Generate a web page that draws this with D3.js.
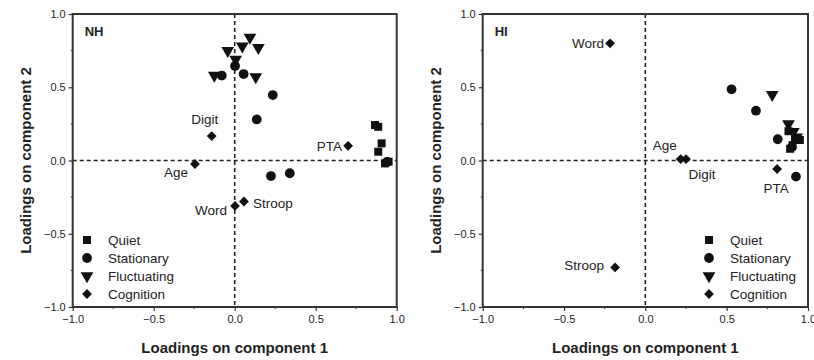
<!DOCTYPE html>
<html>
<head>
<meta charset="utf-8">
<script src="https://cdn.jsdelivr.net/npm/d3@7"></script>
<style>
  body { margin: 0; background: #fff; }
  svg text { font-family: "Liberation Sans", Arial, sans-serif; fill: #222; }
</style>
</head>
<body>
<svg id="svg_main" width="814" height="360"></svg>
<script>
// legend / series names
const seriesNames = ['Quiet', 'Stationary', 'Fluctuating', 'Cognition'];
const panelNames = ['NH', 'HI'];
const tickValues = [-1.0, -0.5, 0.0, 0.5, 1.0];

// NH panel (component 1, component 2)
const nhQuiet = [[0.866, 0.242], [0.886, 0.23], [0.907, 0.117], [0.886, 0.06], [0.95, -0.008], [0.928, -0.02]];
const nhStationary = [[-0.08, 0.58], [0.002, 0.645], [0.055, 0.59], [0.235, 0.447], [0.136, 0.28], [0.224, -0.106], [0.34, -0.087], [0.94, -0.01]];
const nhFluctuating = [[0.094, 0.84], [0.047, 0.78], [-0.043, 0.75], [0.146, 0.77], [0.006, 0.69], [-0.126, 0.58], [0.13, 0.57]];
const nhCognition = [[0.70, 0.10], [-0.142, 0.167], [-0.245, -0.024], [0.002, -0.31], [0.057, -0.28]];
const nhCognitionLabels = ['PTA', 'Digit', 'Age', 'Word', 'Stroop'];

// HI panel
const hiQuiet = [[0.88, 0.2], [0.92, 0.15], [0.905, 0.105], [0.95, 0.14], [0.89, 0.08]];
const hiStationary = [[0.53, 0.486], [0.68, 0.34], [0.814, 0.145], [0.926, -0.11], [0.9, 0.09]];
const hiFluctuating = [[0.78, 0.45], [0.88, 0.25], [0.91, 0.197], [0.93, 0.16]];
const hiCognition = [[-0.217, 0.80], [-0.186, -0.73], [0.217, 0.01], [0.25, 0.01], [0.81, -0.058]];
const hiCognitionLabels = ['Word', 'Stroop', 'Age', 'Digit', 'PTA'];

// where each label sits relative to its point: dx, dy, anchor
const labelPos = {
  NH: {PTA: [-6, 5, 'end'], Digit: [-7, -12, 'middle'], Age: [-7, 13, 'end'], Word: [-8, 9, 'end'], Stroop: [9, 6, 'start']},
  HI: {Word: [-6, 5, 'end'], Stroop: [-11, 3, 'end'], Age: [-16, -9, 'middle'], Digit: [16, 20, 'middle'], PTA: [-1, 24, 'middle']}
};

const svg = d3.select('#svg_main');

const symbols = {
  Quiet: d3.symbol().type(d3.symbolSquare).size(64),
  Stationary: d3.symbol().type(d3.symbolCircle).size(75),
  Fluctuating: d3.symbol().type(d3.symbolTriangle).size(70),
  Cognition: d3.symbol().type(d3.symbolSquare).size(48)
};
const rotate = {Quiet: 0, Stationary: 0, Fluctuating: 180, Cognition: 45};

function drawPanel(opts, data) {
  const {left, right, top, bottom, name, legendX, cogLabels} = opts;
  const x = d3.scaleLinear().domain([-1, 1]).range([left, right]);
  const y = d3.scaleLinear().domain([-1, 1]).range([bottom, top]);
  const g = svg.append('g');

  // zero lines
  g.append('line')
    .attr('x1', x(0)).attr('x2', x(0)).attr('y1', top).attr('y2', bottom)
    .attr('stroke', '#222').attr('stroke-width', 1.6).attr('stroke-dasharray', '4,3');
  g.append('line')
    .attr('x1', left).attr('x2', right).attr('y1', y(0)).attr('y2', y(0))
    .attr('stroke', '#222').attr('stroke-width', 1.6).attr('stroke-dasharray', '4,3');

  // axes
  const xAxis = g.append('g').attr('transform', `translate(0,${bottom})`)
    .call(d3.axisBottom(x).tickValues(tickValues).tickFormat(d3.format('.1f')).tickSize(4).tickSizeOuter(0));
  const yAxis = g.append('g').attr('transform', `translate(${left},0)`)
    .call(d3.axisLeft(y).tickValues(tickValues).tickFormat(d3.format('.1f')).tickSize(4).tickSizeOuter(0));
  [xAxis, yAxis].forEach(a => {
    a.select('.domain').remove();
    a.selectAll('line').attr('stroke', '#333').attr('stroke-width', 1.2);
    a.selectAll('text').attr('font-size', 11).attr('fill', '#444');
  });
  xAxis.selectAll('text').attr('dy', '0.85em');
  // minor ticks
  const minor = [-0.75, -0.25, 0.25, 0.75];
  g.selectAll('.mx').data(minor).join('line')
    .attr('x1', d => x(d)).attr('x2', d => x(d)).attr('y1', bottom).attr('y2', bottom + 2)
    .attr('stroke', '#333');
  g.selectAll('.my').data(minor).join('line')
    .attr('y1', d => y(d)).attr('y2', d => y(d)).attr('x1', left).attr('x2', left - 2)
    .attr('stroke', '#333');

  // frame
  g.append('rect')
    .attr('x', left).attr('y', top).attr('width', right - left).attr('height', bottom - top)
    .attr('fill', 'none').attr('stroke', '#333').attr('stroke-width', 2);

  // points
  seriesNames.forEach((s, i) => {
    g.append('g').selectAll('path')
      .data(data[i])
      .join('path')
      .attr('d', symbols[s])
      .attr('transform', d => `translate(${x(d[0])},${y(d[1])}) rotate(${rotate[s]})`)
      .attr('fill', '#111');
  });

  // cognition labels
  g.append('g').selectAll('text')
    .data(data[3])
    .join('text')
    .attr('x', (d, i) => x(d[0]) + labelPos[name][cogLabels[i]][0])
    .attr('y', (d, i) => y(d[1]) + labelPos[name][cogLabels[i]][1])
    .attr('text-anchor', (d, i) => labelPos[name][cogLabels[i]][2])
    .attr('font-size', 13.5)
    .text((d, i) => cogLabels[i]);

  // panel label
  g.append('text').attr('x', left + 12).attr('y', top + 22)
    .attr('font-size', 13).attr('font-weight', 'bold').text(name);

  // legend
  const leg = g.append('g').selectAll('g').data(seriesNames).join('g')
    .attr('transform', (d, i) => `translate(${legendX},${240 + i * 18})`);
  leg.append('path')
    .attr('d', d => symbols[d]())
    .attr('transform', d => `rotate(${rotate[d]})`)
    .attr('fill', '#111');
  leg.append('text').attr('x', 21).attr('y', 5).attr('font-size', 13.5).text(d => d);

  // axis titles
  g.append('text').attr('x', (left + right) / 2).attr('y', 353)
    .attr('text-anchor', 'middle').attr('font-size', 15).attr('font-weight', 'bold')
    .text('Loadings on component 1');
  g.append('text')
    .attr('transform', `translate(${left - 42},${(top + bottom) / 2}) rotate(-90)`)
    .attr('text-anchor', 'middle').attr('font-size', 15).attr('font-weight', 'bold')
    .text('Loadings on component 2');
}

drawPanel({left: 72.7, right: 396.7, top: 14, bottom: 307, name: panelNames[0], legendX: 87, cogLabels: nhCognitionLabels},
  [nhQuiet, nhStationary, nhFluctuating, nhCognition]);
drawPanel({left: 482.7, right: 808, top: 14, bottom: 307, name: panelNames[1], legendX: 709, cogLabels: hiCognitionLabels},
  [hiQuiet, hiStationary, hiFluctuating, hiCognition]);
</script>
</body>
</html>
